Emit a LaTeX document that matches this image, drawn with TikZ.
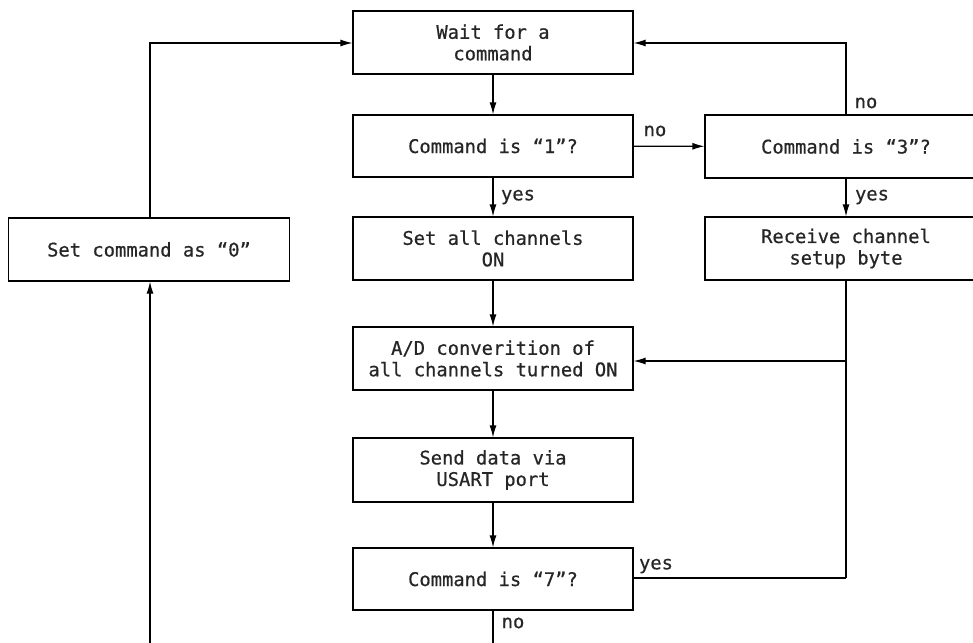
\documentclass[tikz,border=0pt]{standalone}
\usepackage{fontspec}
\setmonofont[FakeBold=0.6]{DejaVu Sans Mono}
\usetikzlibrary{arrows.meta}
\begin{document}
\begin{tikzpicture}[x=1pt,y=-1pt,
  every node/.style={font=\ttfamily\fontsize{18.8}{21.5}\selectfont, text=black!85},
  box/.style={draw, line width=1.2pt, minimum width=280pt, minimum height=63pt, align=center, inner sep=0pt},
  conn/.style={line width=1.2pt},
  arr/.style={conn, -{Latex[length=12pt,width=7pt]}},
  lbl/.style={inner sep=0pt}]
\useasboundingbox (0,0) rectangle (973,642);
\node[box] (wait) at (493,42.5) {Wait for a\\command};
\node[box, minimum height=62pt] (c1) at (493,146) {Command is “1”?};
\node[box] (setall) at (493,248.5) {Set all channels\\ON};
\node[box] (ad) at (493,358.5) {A/D converition of\\all channels turned ON};
\node[box, minimum height=64pt] (send) at (493,470) {Send data via\\USART port};
\node[box, minimum height=62pt] (c7) at (493,579) {Command is “7”?};
\node[box, minimum width=282pt] (c3) at (846,146.5) {Command is “3”?};
\node[box, minimum width=282pt] (recv) at (846,248.5) {Receive channel\\setup byte};
\node[box, minimum width=281pt] (set0) at (149,249.5) {Set command as “0”};
\coordinate (bot7) at (493,650);
\coordinate (botL) at (150,650);
\coordinate (topL) at (150,43);
\coordinate (topR) at (846,43);
\coordinate (midR) at (846,361);
\coordinate (lowR) at (846,578);

\draw[arr] (wait) -- (c1);
\draw[arr] (c1) -- (c3);
\draw[arr] (c1) -- (setall);
\draw[arr] (c3) -- (recv);
\draw[arr] (c3.north) -- (topR) -- (wait.east |- topR);
\draw[arr] (setall) -- (ad);
\draw[conn] (recv.south) -- (lowR);
\draw[arr] (midR) -- (ad.east |- midR);
\draw[conn] (c7.east |- lowR) -- (lowR);
\draw[arr] (ad) -- (send);
\draw[arr] (send) -- (c7);
\draw[conn] (c7.south) -- (bot7);
\draw[arr] (botL) -- (set0.south -| botL);
\draw[arr] (set0.north -| topL) -- (topL) -- (wait.west |- topL);

\node[lbl] (no1) at (655,131) {no};
\node[lbl] (yes1) at (518,197) {yes};
\node[lbl] (no3) at (866,103) {no};
\node[lbl] (yes3) at (872,197) {yes};
\node[lbl] (yes7) at (656,566) {yes};
\node[lbl] (no7) at (513,623) {no};
\end{tikzpicture}
\end{document}
